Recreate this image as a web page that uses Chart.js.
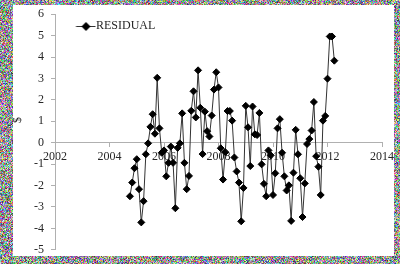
<!DOCTYPE html>
<html>
<head>
<meta charset="utf-8">
<script src="https://cdn.jsdelivr.net/npm/chart.js@4.4.0/dist/chart.umd.min.js"></script>
<style>
  html, body { margin: 0; padding: 0; background: #fff; }
  #wrap { position: relative; width: 400px; height: 264px; }
  #wrap canvas { position: absolute; left: 0; top: 0; }
</style>
</head>
<body>
<div id="wrap">
  <canvas id="frame" width="400" height="264"></canvas>
  <canvas id="residual-chart" width="400" height="264"></canvas>
</div>
<script>
// Monthly residuals, the first one is October 2004
const startYear = 2004;
const startMonth = 10;
const residuals = [
  -2.50, -1.86, -1.19, -0.77, -2.17, -3.72, -2.73, -0.54, -0.03, 0.74,
  1.33, 0.42, 3.03, 0.67, -0.47, -0.36, -1.57, -0.94, -0.18, -0.94,
  -3.06, -0.24, -0.03, 1.37, -0.94, -2.17, -1.55, 1.49, 2.40, 1.18,
  3.38, 1.63, -0.53, 1.45, 0.54, 0.29, 1.27, 2.48, 3.29, 2.58,
  -0.26, -1.72, -0.44, 1.48, 1.48, 1.03, -0.69, -1.34, -1.86, -3.67,
  -2.11, 1.72, 0.72, -1.09, 1.69, 0.39, 0.36, 1.39, -1.01, -1.92,
  -2.50, -0.36, -0.59, -2.44, -1.43, 0.67, 1.10, -0.47, -1.57, -2.23,
  -1.99, -3.65, -1.40, 0.60, -0.54, -1.66, -3.47, -1.90, -0.06, 0.17,
  0.57, 1.90, -0.63, -1.12, -2.44, 1.03, 1.25, 2.99, 4.96, 4.96,
  3.83
];
const yearTicks = [2002, 2004, 2006, 2008, 2010, 2012, 2014];
const dollarTicks = [-5, -4, -3, -2, -1, 0, 1, 2, 3, 4, 5, 6];
const seriesName = 'RESIDUAL';
const axisTitle = '$';

const serif = { family: '"Liberation Serif", "Times New Roman", serif', size: 12 };
const textColor = '#262626';
const axisColor = '#b0b0b0';

// noisy picture frame round the white chart
function drawFrame() {
  const c = document.getElementById('frame').getContext('2d');
  const img = c.createImageData(400, 264);
  let seed = 20240611;
  function rnd() {
    seed = (Math.imul(seed, 1664525) + 1013904223) >>> 0;
    return seed / 4294967296;
  }
  for (let i = 0; i < img.data.length; i += 4) {
    img.data[i] = 40 + rnd() * 215;
    img.data[i + 1] = 40 + rnd() * 215;
    img.data[i + 2] = 40 + rnd() * 215;
    img.data[i + 3] = 255;
  }
  c.putImageData(img, 0, 0);
  c.fillStyle = '#fff';
  c.fillRect(13, 5, 381, 251);
}
drawFrame();

// legend icon: a short line with a diamond on it
const legendIcon = document.createElement('canvas');
legendIcon.width = 40;
legendIcon.height = 10;
(function () {
  const g = legendIcon.getContext('2d');
  g.strokeStyle = '#333';
  g.lineWidth = 1;
  g.beginPath();
  g.moveTo(13.5, 5.5);
  g.lineTo(33, 5.5);
  g.stroke();
  g.fillStyle = '#000';
  g.beginPath();
  g.moveTo(23.5, 1);
  g.lineTo(28, 5.5);
  g.lineTo(23.5, 10);
  g.lineTo(19, 5.5);
  g.closePath();
  g.fill();
})();

// y title drawn by hand so it sits where the original has it
const dollarTitle = {
  id: 'dollarTitle',
  afterDraw(chart) {
    const c = chart.ctx;
    c.save();
    c.translate(18, 120);
    c.rotate(-Math.PI / 2);
    c.font = '12px ' + serif.family;
    c.fillStyle = textColor;
    c.textAlign = 'center';
    c.textBaseline = 'middle';
    c.fillText(axisTitle, 0, 0);
    c.restore();
  }
};

const points = residuals.map((v, i) => ({ x: startYear + (startMonth - 1 + i) / 12, y: v }));

const ctx = document.getElementById('residual-chart').getContext('2d');
const residualChart = new Chart(ctx, {
  type: 'scatter',
  data: {
    datasets: [{
      label: seriesName,
      data: points,
      showLine: true,
      borderColor: '#333',
      borderWidth: 1,
      pointStyle: 'rectRot',
      pointRadius: 3.5,
      pointBackgroundColor: '#000',
      pointBorderColor: '#000',
      pointBorderWidth: 1
    }]
  },
  options: {
    responsive: false,
    animation: false,
    devicePixelRatio: 1,
    layout: { padding: { left: 0, right: 18, top: 10, bottom: 12 } },
    plugins: {
      tooltip: { enabled: false },
      legend: {
        position: 'chartArea',
        align: 'start',
        labels: {
          usePointStyle: true,
          pointStyleWidth: 15,
          padding: 20,
          font: serif,
          color: textColor,
          generateLabels: () => [{
            text: seriesName,
            pointStyle: legendIcon,
            fontColor: textColor,
            fillStyle: 'transparent',
            strokeStyle: 'transparent',
            lineWidth: 0,
            datasetIndex: 0
          }]
        }
      }
    },
    scales: {
      x: {
        type: 'linear',
        position: { y: 0 },
        min: 2002,
        max: 2014,
        afterBuildTicks: s => { s.ticks = yearTicks.map(v => ({ value: v })); },
        grid: { drawOnChartArea: false, tickLength: 4, color: axisColor },
        border: { color: axisColor, width: 1 },
        ticks: { font: serif, color: textColor, padding: 3, maxRotation: 0, autoSkip: false, callback: v => String(v) }
      },
      y: {
        min: -5,
        max: 6,
        afterBuildTicks: s => { s.ticks = dollarTicks.map(v => ({ value: v })); },
        afterFit: s => { s.width = 55; },
        grid: { drawOnChartArea: false, tickLength: 4, color: axisColor },
        border: { color: axisColor, width: 1 },
        ticks: { font: serif, color: textColor, padding: 7, callback: v => String(v) }
      }
    }
  },
  plugins: [dollarTitle]
});
</script>
</body>
</html>
